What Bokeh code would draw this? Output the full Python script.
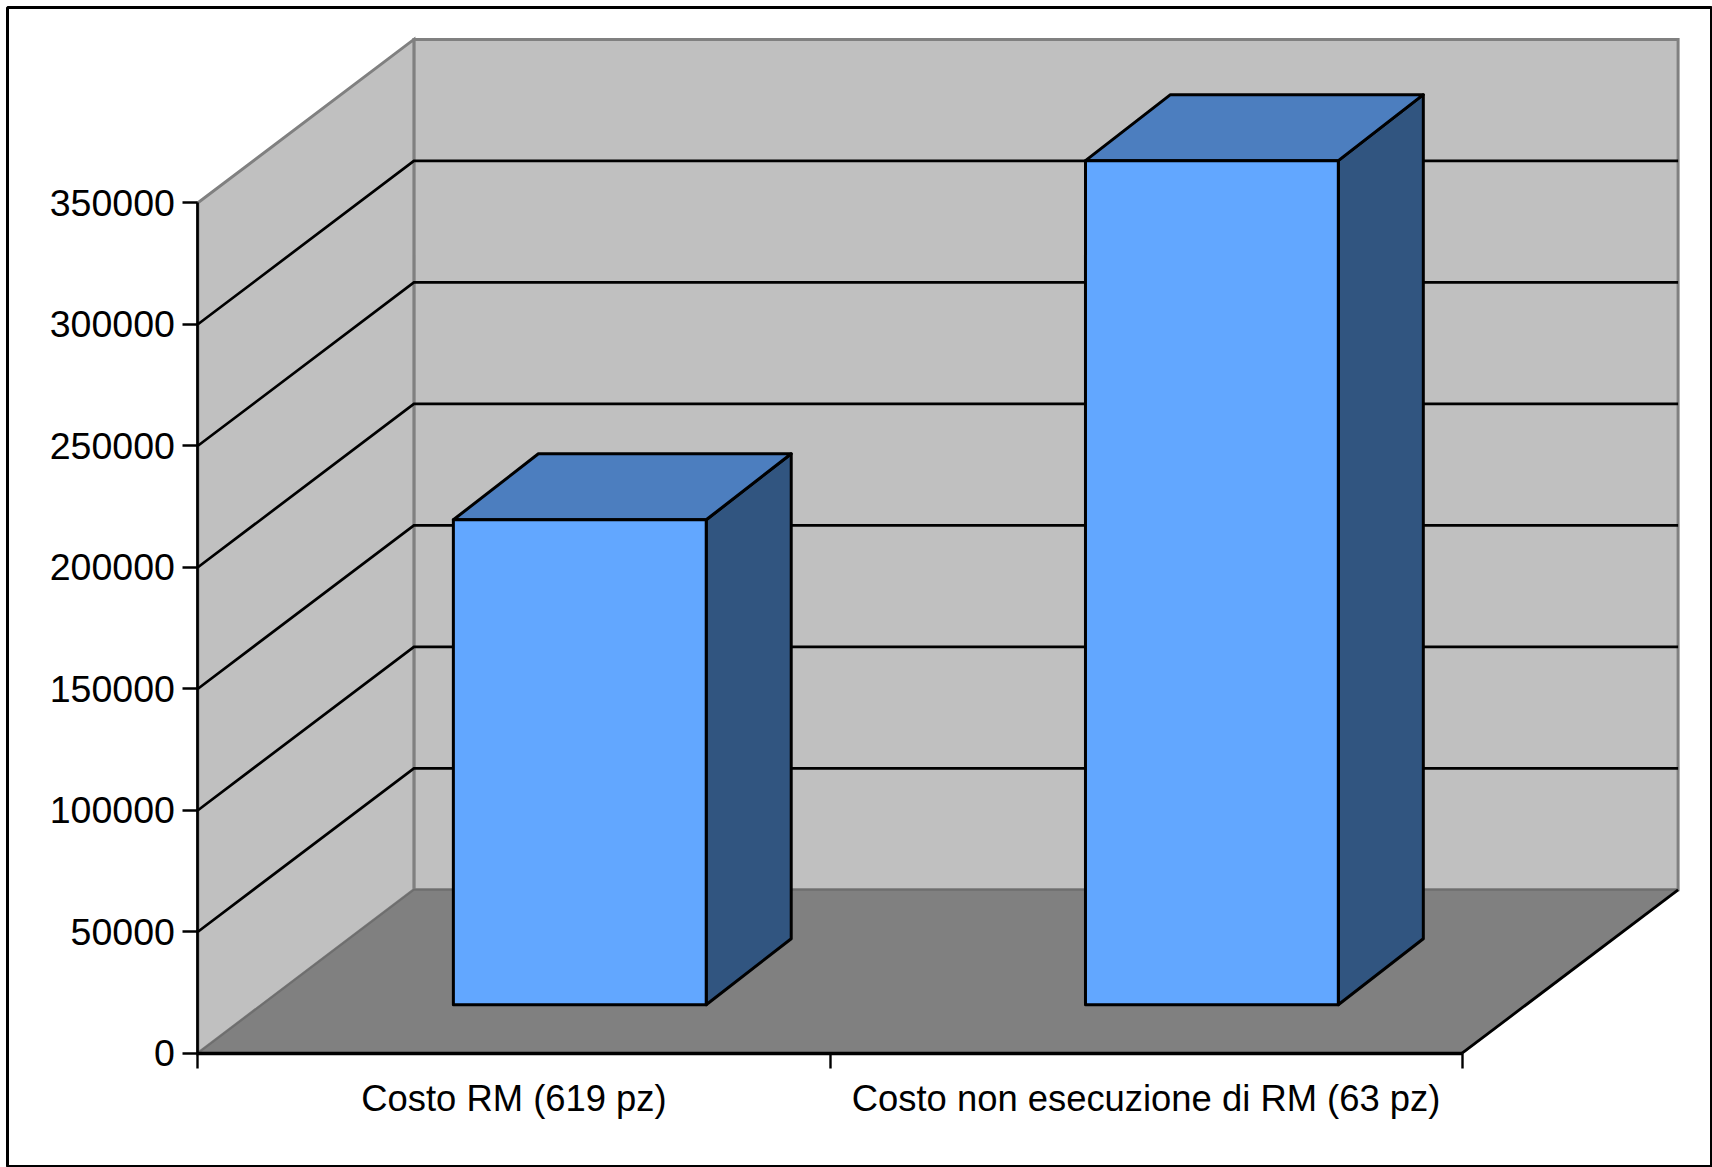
from bokeh.embed import file_html
from bokeh.models import BasicTickFormatter, FixedTicker, LinearAxis, Range1d
from bokeh.plotting import figure
from bokeh.resources import INLINE

categories = ["Costo RM (619 pz)", "Costo non esecuzione di RM (63 pz)"]
values = [199600, 347400]
y_ticks = [0, 50000, 100000, 150000, 200000, 250000, 300000, 350000]
x_edges = [0, 1, 2]
x_centers = [0.5, 1.5]

WALL = "#C0C0C0"
FLOOR = "#808080"
EDGE = "#808080"
BAR_FRONT = "#62A7FF"
BAR_TOP = "#4C7EBF"
BAR_SIDE = "#315580"
FONT = "Liberation Sans"

# Canvas layout, in pixels
WIDTH, HEIGHT = 1712, 1167
BORDER_L, BORDER_R, BORDER_T, BORDER_B = 7, 1, 7, 1
ORIGIN_X, ORIGIN_Y = 197.4, 1052.7
PX_PER_CAT = 632.1
PX_PER_VAL = 850.4 / 350000

# Oblique projection: how far one full unit of depth moves a point
DEPTH_X = 216.0 / PX_PER_CAT
DEPTH_Y = 163.4 / PX_PER_VAL

BAR_WIDTH = 0.4
BAR_SHIFT = 1.8 / PX_PER_CAT
BAR_D0 = 0.2965
# Extent of a bar's top and side faces
BAR_DX = 85.0 / PX_PER_CAT
BAR_DY = 66.0 / PX_PER_VAL
Y_MAX = y_ticks[-1]
X_MAX = x_edges[-1]


def pt(x, v, d=0.0):
    return x + d * DEPTH_X, v + d * DEPTH_Y


def back(point):
    return point[0] + BAR_DX, point[1] + BAR_DY


def poly(*pts):
    return [q[0] for q in pts], [q[1] for q in pts]


p = figure(
    width=WIDTH,
    height=HEIGHT,
    output_backend="svg",
    toolbar_location=None,
    x_axis_type=None,
    y_axis_type=None,
    min_border_left=BORDER_L,
    min_border_right=BORDER_R,
    min_border_top=BORDER_T,
    min_border_bottom=BORDER_B,
    x_range=Range1d((BORDER_L - ORIGIN_X) / PX_PER_CAT, (WIDTH - BORDER_R - ORIGIN_X) / PX_PER_CAT),
    y_range=Range1d((ORIGIN_Y - (HEIGHT - BORDER_B)) / PX_PER_VAL, (ORIGIN_Y - BORDER_T) / PX_PER_VAL),
)
p.grid.visible = False
p.background_fill_color = "white"
p.border_fill_color = "white"
p.outline_line_color = "black"
p.outline_line_width = 3

# Back and side walls
xs, ys = poly(pt(0, 0, 1), pt(X_MAX, 0, 1), pt(X_MAX, Y_MAX, 1), pt(0, Y_MAX, 1))
p.patch(xs, ys, fill_color=WALL, line_color=EDGE, line_width=3, line_join="miter")
xs, ys = poly(pt(0, 0), pt(0, 0, 1), pt(0, Y_MAX, 1), pt(0, Y_MAX))
p.patch(xs, ys, fill_color=WALL, line_color=EDGE, line_width=3, line_join="miter")

# Floor
xs, ys = poly(pt(0, 0), pt(X_MAX, 0), pt(X_MAX, 0, 1), pt(0, 0, 1))
p.patch(xs, ys, fill_color=FLOOR, line_color="#6E6E6E", line_width=2)
xs, ys = poly(pt(X_MAX, 0), pt(X_MAX, 0, 1))
p.line(xs, ys, line_color="black", line_width=2.8)

# Gridlines wrap from the side wall on to the back wall
for tick in y_ticks[1:-1]:
    xs, ys = poly(pt(0, tick), pt(0, tick, 1), pt(X_MAX, tick, 1))
    p.line(xs, ys, line_color="black", line_width=2.7, line_join="miter")

# Bars as three visible faces of a box
for center, val in zip(x_centers, values):
    x0 = center - BAR_WIDTH / 2 + BAR_SHIFT
    x1 = center + BAR_WIDTH / 2 + BAR_SHIFT
    bl, br = pt(x0, 0, BAR_D0), pt(x1, 0, BAR_D0)
    tl, tr = pt(x0, val, BAR_D0), pt(x1, val, BAR_D0)
    face = dict(line_color="black", line_width=3, line_join="round")
    xs, ys = poly(br, back(br), back(tr), tr)
    p.patch(xs, ys, fill_color=BAR_SIDE, **face)
    xs, ys = poly(tl, tr, back(tr), back(tl))
    p.patch(xs, ys, fill_color=BAR_TOP, **face)
    xs, ys = poly(bl, br, tr, tl)
    p.patch(xs, ys, fill_color=BAR_FRONT, **face)

# Value axis on the front edge of the side wall
y_axis = LinearAxis(
    fixed_location=0,
    bounds=(0, Y_MAX),
    ticker=FixedTicker(ticks=y_ticks),
    formatter=BasicTickFormatter(use_scientific=False),
    axis_line_color="black",
    axis_line_width=2.7,
    major_tick_line_color="black",
    major_tick_line_width=2.7,
    major_tick_in=0,
    major_tick_out=15,
    minor_tick_line_color=None,
    major_label_standoff=8,
    major_label_text_font=FONT,
    major_label_text_font_size="37.5px",
    major_label_text_color="black",
)
p.add_layout(y_axis, "left")

# Category axis: minor ticks mark the boundaries, major ticks carry the centred names
x_axis = LinearAxis(
    fixed_location=0,
    bounds=(0, X_MAX),
    ticker=FixedTicker(ticks=x_centers, minor_ticks=x_edges),
    major_label_overrides=dict(zip(x_centers, categories)),
    axis_line_color="black",
    axis_line_width=3.4,
    major_tick_line_color=None,
    major_tick_in=0,
    major_tick_out=0,
    minor_tick_line_color="black",
    minor_tick_line_width=2.4,
    minor_tick_in=0,
    minor_tick_out=15,
    major_label_standoff=10,
    major_label_text_font=FONT,
    major_label_text_font_size="36.4px",
    major_label_text_color="black",
)
p.add_layout(x_axis, "below")

open("out.html", "w").write(file_html(p, INLINE))
